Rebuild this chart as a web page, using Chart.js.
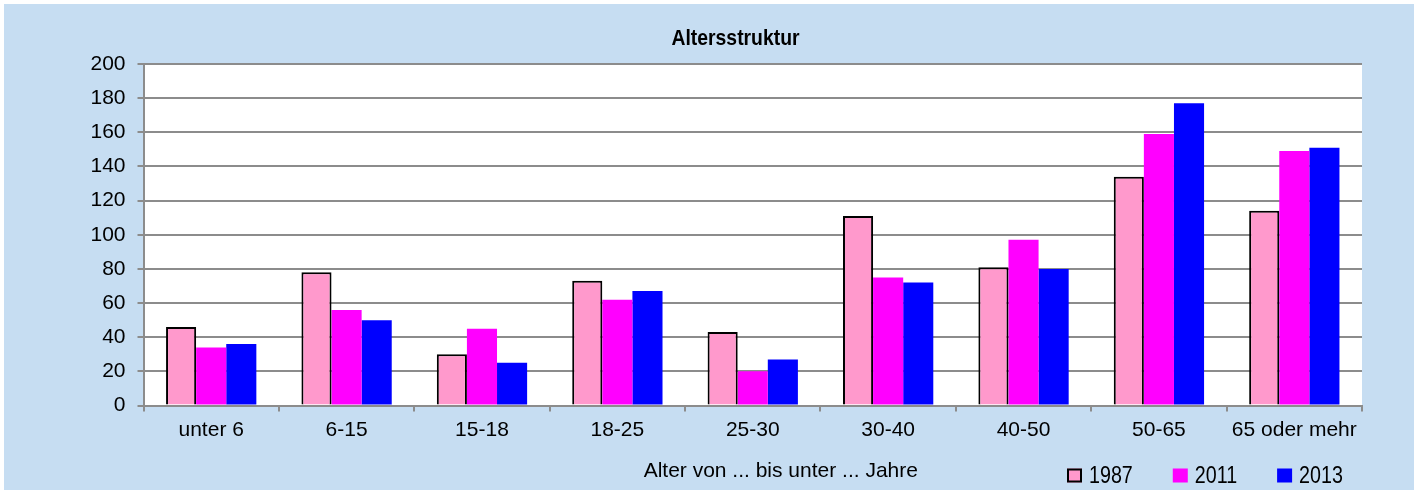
<!DOCTYPE html>
<html>
<head>
<meta charset="utf-8">
<script src="https://cdn.jsdelivr.net/npm/chart.js@4/dist/chart.umd.min.js"></script>
<style>
  html, body { margin: 0; padding: 0; background: #ffffff; }
  #wrap { position: relative; width: 1419px; height: 490px; }
</style>
</head>
<body>
<div id="wrap"><canvas id="c" width="1419" height="490"></canvas></div>
<script>
const categories = ['unter 6', '6-15', '15-18', '18-25', '25-30', '30-40', '40-50', '50-65', '65 oder mehr'];
const seriesNames = ['1987', '2011', '2013'];
const values1987 = [46, 78, 30, 73, 43, 111, 81, 134, 114];
const values2011 = [34, 56, 45, 62, 20, 75, 97, 159, 149];
const values2013 = [36, 50, 25, 67, 27, 72, 80, 177, 151];
const yTicks = [0, 20, 40, 60, 80, 100, 120, 140, 160, 180, 200];
const chartTitle = 'Altersstruktur';
const xAxisTitle = 'Alter von ... bis unter ... Jahre';

const BG = '#c6ddf2';
const GRID = '#8c8c8c';
const FONT = "'Liberation Sans', Arial, sans-serif";

const backgroundPlugin = {
  id: 'bgPlugin',
  beforeDraw(chart) {
    const ctx = chart.ctx;
    ctx.save();
    ctx.fillStyle = '#ffffff';
    ctx.fillRect(0, 0, chart.width, chart.height);
    ctx.fillStyle = BG;
    ctx.fillRect(4, 4, chart.width - 9, chart.height - 4);
    const a = chart.chartArea;
    ctx.fillStyle = '#ffffff';
    ctx.fillRect(a.left, a.top, a.right - a.left, a.bottom - a.top);
    ctx.restore();
  }
};

const extrasPlugin = {
  id: 'extrasPlugin',
  afterDraw(chart) {
    const ctx = chart.ctx;
    const a = chart.chartArea;
    ctx.save();
    // chart title
    ctx.font = 'bold 22px ' + FONT;
    ctx.fillStyle = '#000000';
    ctx.textAlign = 'center';
    ctx.textBaseline = 'middle';
    ctx.save();
    ctx.translate(735.5, 38.5);
    ctx.scale(0.88, 1);
    ctx.fillText(chartTitle, 0, 0);
    ctx.restore();
    // x axis title
    ctx.font = '21px ' + FONT;
    ctx.fillText(xAxisTitle, a.left + (a.right - a.left) * 0.523, 471);
    // legend
    ctx.font = '24px ' + FONT;
    ctx.textAlign = 'left';
    const sx = 0.82;
    let x = 1067;
    const boxY = 468.5;
    chart.data.datasets.forEach((ds) => {
      ctx.fillStyle = ds.backgroundColor;
      ctx.fillRect(x, boxY, 15, 14);
      if (ds.borderWidth) {
        ctx.strokeStyle = '#000000';
        ctx.lineWidth = 2;
        ctx.strokeRect(x + 1, boxY + 1, 13, 12);
      }
      ctx.fillStyle = '#000000';
      ctx.save();
      ctx.translate(x + 22, 476);
      ctx.scale(sx, 1);
      ctx.fillText(ds.label, 0, 0);
      ctx.restore();
      const w = ctx.measureText(ds.label).width * sx;
      x += 15 + 7 + w + 40;
    });
    ctx.restore();
  }
};

new Chart(document.getElementById('c'), {
  type: 'bar',
  data: {
    labels: categories,
    datasets: [
      { label: seriesNames[0], data: values1987, backgroundColor: '#ff99cc', borderColor: '#000000', borderWidth: 2 },
      { label: seriesNames[1], data: values2011, backgroundColor: '#ff00ff', borderWidth: 0 },
      { label: seriesNames[2], data: values2013, backgroundColor: '#0000ff', borderWidth: 0 }
    ]
  },
  options: {
    responsive: false,
    animation: false,
    devicePixelRatio: 1,
    categoryPercentage: 0.667,
    barPercentage: 1.0,
    layout: { padding: { left: 0, right: 57, top: 64, bottom: 0 } },
    plugins: {
      legend: { display: false },
      tooltip: { enabled: false },
      title: { display: false }
    },
    scales: {
      x: {
        grid: { display: true, drawOnChartArea: false, drawTicks: true, tickLength: 6, color: GRID, lineWidth: 2 },
        border: { display: true, color: GRID, width: 2 },
        ticks: { color: '#000000', font: { family: FONT, size: 21 }, padding: 6, maxRotation: 0, autoSkip: false },
        afterFit(scale) { scale.height = 84.5; }
      },
      y: {
        min: 0,
        max: 200,
        afterBuildTicks(scale) { scale.ticks = yTicks.map(v => ({ value: v })); },
        grid: { color: GRID, lineWidth: 2, drawTicks: true, tickLength: 6 },
        border: { display: true, color: GRID, width: 2 },
        ticks: { color: '#000000', font: { family: FONT, size: 21 }, padding: 12 },
        afterFit(scale) { scale.width = 143.5; }
      }
    }
  },
  plugins: [backgroundPlugin, extrasPlugin]
});
</script>
</body>
</html>
